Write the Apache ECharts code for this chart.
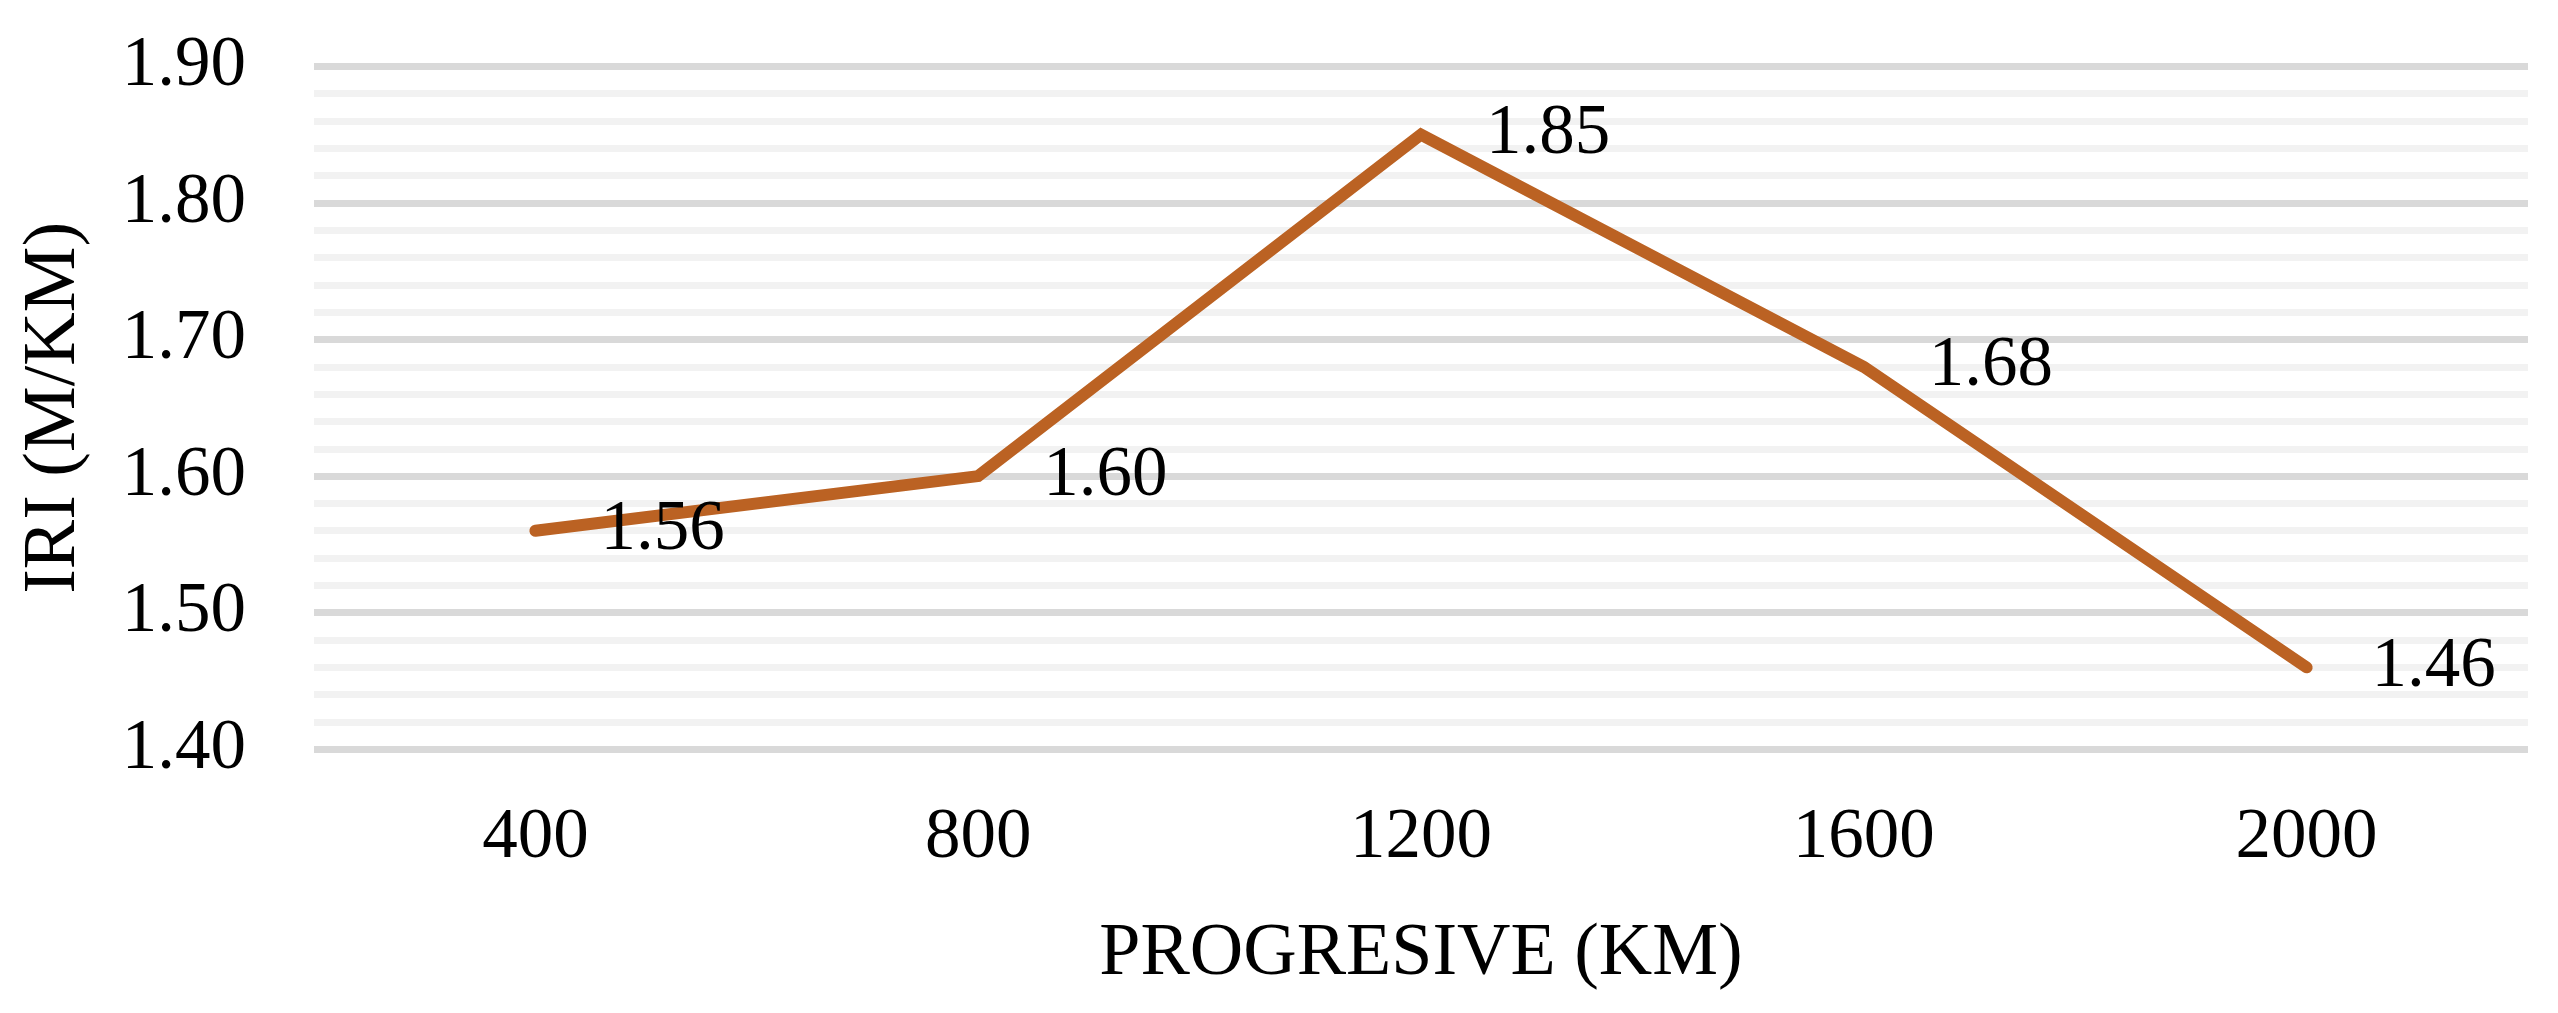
<!DOCTYPE html>
<html>
<head>
<meta charset="utf-8">
<script src="https://cdn.jsdelivr.net/npm/echarts@6/dist/echarts.min.js"></script>
<style>
html,body{margin:0;padding:0;background:#fff;}
#chart{width:2558px;height:1013px;}
</style>
</head>
<body>
<div id="chart"></div>
<script>
// Data
var categories = ['400', '800', '1200', '1600', '2000'];
var iriValues = [1.56, 1.60, 1.85, 1.68, 1.46];
var yTicks = [1.40, 1.50, 1.60, 1.70, 1.80, 1.90];
var xAxisTitle = 'PROGRESIVE (KM)';
var yAxisTitle = 'IRI (M/KM)';

var FONT = '"Liberation Serif", "DejaVu Serif", serif';
var chart = echarts.init(document.getElementById('chart'), null, {renderer: 'canvas'});
chart.setOption({
  backgroundColor: '#ffffff',
  animation: false,
  grid: {left: 314, right: 30, top: 66.3, bottom: 263.7, containLabel: false},
  xAxis: {
    type: 'category',
    data: categories,
    boundaryGap: true,
    axisLine: {show: false},
    axisTick: {show: false},
    axisLabel: {color: '#000', fontFamily: FONT, fontSize: 71, margin: 54},
    name: xAxisTitle,
    nameLocation: 'middle',
    nameGap: 168,
    nameTextStyle: {color: '#000', fontFamily: FONT, fontSize: 74, verticalAlign: 'top'}
  },
  yAxis: {
    type: 'value',
    min: yTicks[0],
    max: yTicks[yTicks.length - 1],
    interval: 0.1,
    axisLine: {show: false},
    axisTick: {show: false},
    axisLabel: {
      color: '#000', fontFamily: FONT, fontSize: 71, margin: 68,
      formatter: function (v) { return v.toFixed(2); }
    },
    splitLine: {show: true, lineStyle: {color: '#d9d9d9', width: 7}},
    minorTick: {show: false, splitNumber: 5},
    minorSplitLine: {show: true, lineStyle: {color: '#f2f2f2', width: 7}},
    name: yAxisTitle,
    nameLocation: 'middle',
    nameGap: 222,
    nameRotate: 90,
    nameTextStyle: {color: '#000', fontFamily: FONT, fontSize: 74}
  },
  series: [{
    type: 'line',
    data: iriValues,
    showSymbol: true,
    showAllSymbol: true,
    symbol: 'circle',
    symbolSize: 2,
    lineStyle: {color: '#BB6223', width: 12, cap: 'round', join: 'miter'},
    itemStyle: {color: '#BB6223', borderWidth: 0},
    label: {
      show: true,
      position: 'right',
      distance: 64,
      color: '#000',
      fontFamily: FONT,
      fontSize: 71,
      formatter: function (p) { return p.value.toFixed(2); }
    }
  }]
});
</script>
</body>
</html>
